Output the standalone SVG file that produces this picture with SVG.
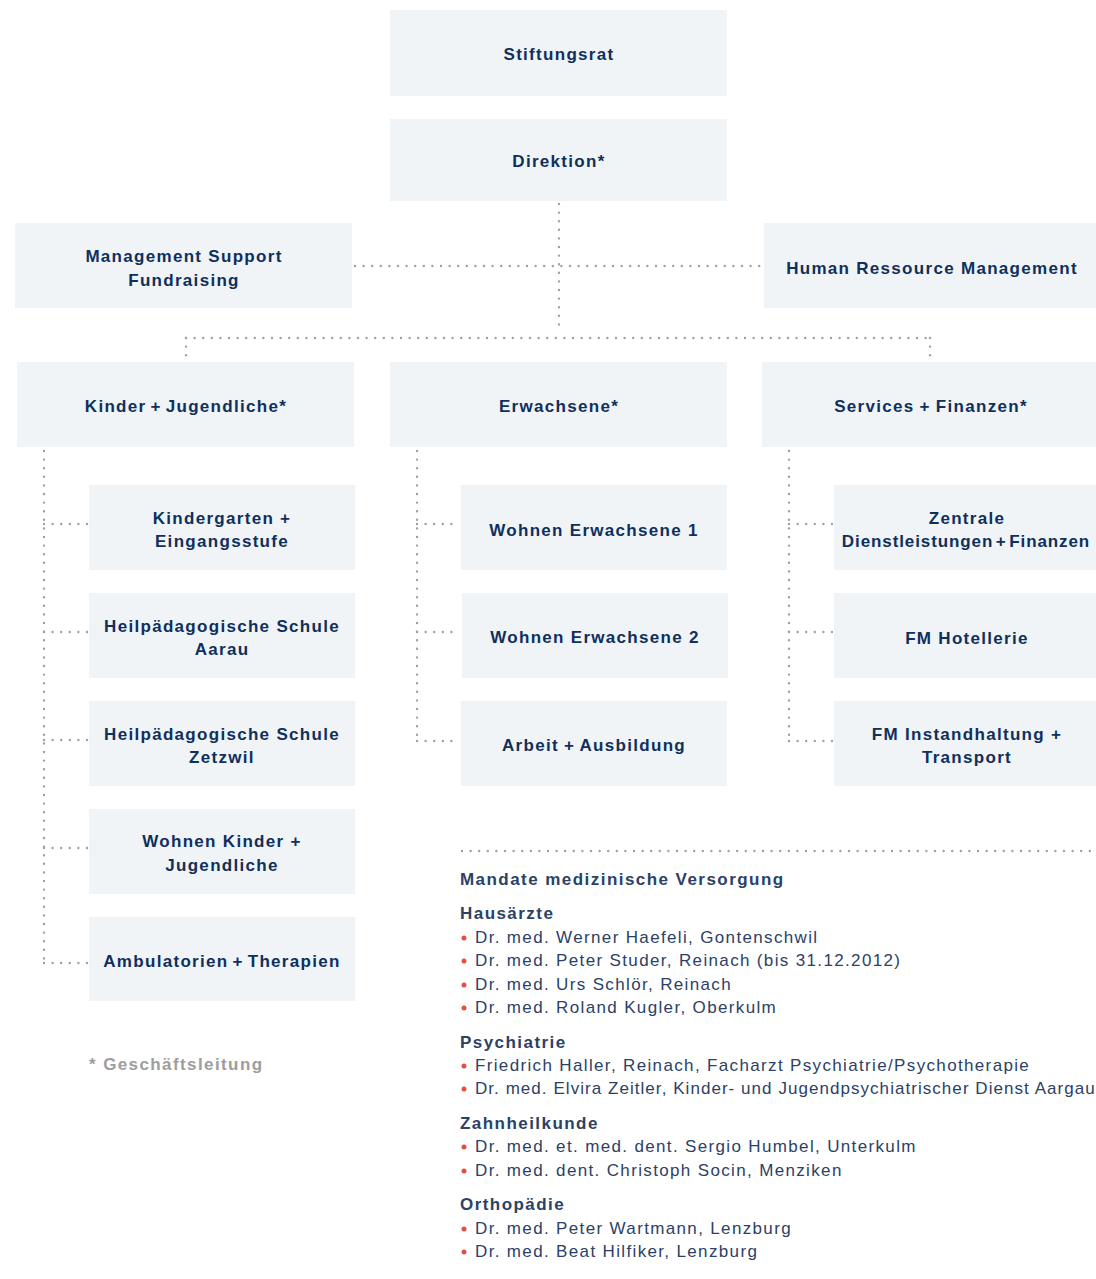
<svg xmlns="http://www.w3.org/2000/svg" width="1096" height="1279" viewBox="0 0 1096 1279">
<style>
.box{fill:#f0f4f6}
.t{font-family:"Liberation Sans",Arial,sans-serif;font-size:17px;font-weight:bold;fill:#0f2f5c;letter-spacing:1.3px;text-anchor:middle}
.c{fill:none;stroke:#a0a0a0;stroke-width:2.4;stroke-linecap:round;stroke-dasharray:0 8.6}
.h{font-family:"Liberation Sans",Arial,sans-serif;font-size:17px;font-weight:bold;fill:#2c4166;letter-spacing:1.45px}
.l{font-family:"Liberation Sans",Arial,sans-serif;font-size:17px;fill:#2c4166;letter-spacing:1.35px}
.b{fill:#e5503e}
.fn{font-family:"Liberation Sans",Arial,sans-serif;font-size:17px;font-weight:bold;fill:#9d9d9d;letter-spacing:1.4px}
</style>
<rect width="1096" height="1279" fill="#ffffff"/>
<g id="connectors">
<path class="c" d="M559 204V327"/>
<path class="c" d="M355 266H760"/>
<path class="c" d="M186 338H930"/>
<path class="c" d="M186 338V360"/>
<path class="c" d="M930 338V360"/>
<path class="c" d="M44 451V963"/>
<path class="c" d="M44 524H88M44 632H88M44 740H88M44 848H88M44 963H88"/>
<path class="c" d="M417 451V741"/>
<path class="c" d="M417 524H460M417 632H460M417 741H460"/>
<path class="c" d="M789 451V741"/>
<path class="c" d="M789 524H833M789 632H833M789 741H833"/>
<path class="c" d="M462 851H1096"/>
</g>
<g id="stiftungsrat"><rect class="box" x="390" y="10" width="337" height="86"/><text class="t" x="559" y="60">Stiftungsrat</text></g>
<g id="direktion"><rect class="box" x="390" y="119" width="337" height="82"/><text class="t" x="559" y="167">Direktion*</text></g>
<g id="management-support"><rect class="box" x="15" y="223" width="337" height="85"/><text class="t" x="184" y="262">Management Support</text><text class="t" x="184" y="286">Fundraising</text></g>
<g id="hr"><rect class="box" x="764" y="223" width="332" height="85"/><text class="t" x="932" y="274">Human Ressource Management</text></g>
<g id="kinder"><rect class="box" x="17" y="362" width="337" height="85"/><text class="t" x="186" y="412" style="word-spacing:-2px">Kinder + Jugendliche*</text></g>
<g id="erwachsene"><rect class="box" x="390" y="362" width="337" height="85"/><text class="t" x="559" y="412">Erwachsene*</text></g>
<g id="services"><rect class="box" x="762" y="362" width="334" height="85"/><text class="t" x="931" y="412" style="word-spacing:-1px">Services + Finanzen*</text></g>
<g id="kindergarten"><rect class="box" x="89" y="485" width="266" height="85"/><text class="t" x="222" y="524">Kindergarten +</text><text class="t" x="222" y="547">Eingangsstufe</text></g>
<g id="hps-aarau"><rect class="box" x="89" y="593" width="266" height="85"/><text class="t" x="222" y="632">Heilpädagogische Schule</text><text class="t" x="222" y="655">Aarau</text></g>
<g id="hps-zetzwil"><rect class="box" x="89" y="701" width="266" height="85"/><text class="t" x="222" y="740">Heilpädagogische Schule</text><text class="t" x="222" y="763">Zetzwil</text></g>
<g id="wohnen-kinder"><rect class="box" x="89" y="809" width="266" height="85"/><text class="t" x="222" y="847">Wohnen Kinder +</text><text class="t" x="222" y="871">Jugendliche</text></g>
<g id="ambulatorien"><rect class="box" x="89" y="917" width="266" height="84"/><text class="t" x="222" y="967" style="word-spacing:-2px">Ambulatorien + Therapien</text></g>
<g id="wohnen-erw-1"><rect class="box" x="461" y="485" width="266" height="85"/><text class="t" x="594" y="536">Wohnen Erwachsene 1</text></g>
<g id="wohnen-erw-2"><rect class="box" x="462" y="593" width="266" height="85"/><text class="t" x="595" y="643">Wohnen Erwachsene 2</text></g>
<g id="arbeit"><rect class="box" x="461" y="701" width="266" height="85"/><text class="t" x="594" y="751" style="word-spacing:-1px">Arbeit + Ausbildung</text></g>
<g id="zentrale"><rect class="box" x="834" y="485" width="262" height="85"/><text class="t" x="967" y="524">Zentrale</text><text class="t" x="966" y="547" style="letter-spacing:0.9px;word-spacing:-3px">Dienstleistungen + Finanzen</text></g>
<g id="fm-hotellerie"><rect class="box" x="834" y="593" width="262" height="85"/><text class="t" x="967" y="644">FM Hotellerie</text></g>
<g id="fm-instandhaltung"><rect class="box" x="834" y="701" width="262" height="85"/><text class="t" x="967" y="740">FM Instandhaltung +</text><text class="t" x="967" y="763">Transport</text></g>
<text class="fn" x="89" y="1070">* Geschäftsleitung</text>
<g id="mandate">
<text class="h" x="460" y="885">Mandate medizinische Versorgung</text>
<text class="h" x="460" y="919">Hausärzte</text>
<circle class="b" cx="464" cy="938" r="2.5"/><text class="l" x="475" y="943">Dr. med. Werner Haefeli, Gontenschwil</text>
<circle class="b" cx="464" cy="961" r="2.5"/><text class="l" x="475" y="966">Dr. med. Peter Studer, Reinach (bis 31.12.2012)</text>
<circle class="b" cx="464" cy="985" r="2.5"/><text class="l" x="475" y="990">Dr. med. Urs Schlör, Reinach</text>
<circle class="b" cx="464" cy="1008" r="2.5"/><text class="l" x="475" y="1013">Dr. med. Roland Kugler, Oberkulm</text>
<text class="h" x="460" y="1048">Psychiatrie</text>
<circle class="b" cx="464" cy="1066" r="2.5"/><text class="l" x="475" y="1071">Friedrich Haller, Reinach, Facharzt Psychiatrie/Psychotherapie</text>
<circle class="b" cx="464" cy="1089" r="2.5"/><text class="l" x="475" y="1094" style="letter-spacing:1.05px">Dr. med. Elvira Zeitler, Kinder- und Jugendpsychiatrischer Dienst Aargau</text>
<text class="h" x="460" y="1129">Zahnheilkunde</text>
<circle class="b" cx="464" cy="1147" r="2.5"/><text class="l" x="475" y="1152">Dr. med. et. med. dent. Sergio Humbel, Unterkulm</text>
<circle class="b" cx="464" cy="1171" r="2.5"/><text class="l" x="475" y="1176">Dr. med. dent. Christoph Socin, Menziken</text>
<text class="h" x="460" y="1210">Orthopädie</text>
<circle class="b" cx="464" cy="1229" r="2.5"/><text class="l" x="475" y="1234">Dr. med. Peter Wartmann, Lenzburg</text>
<circle class="b" cx="464" cy="1252" r="2.5"/><text class="l" x="475" y="1257">Dr. med. Beat Hilfiker, Lenzburg</text>
</g>
</svg>
